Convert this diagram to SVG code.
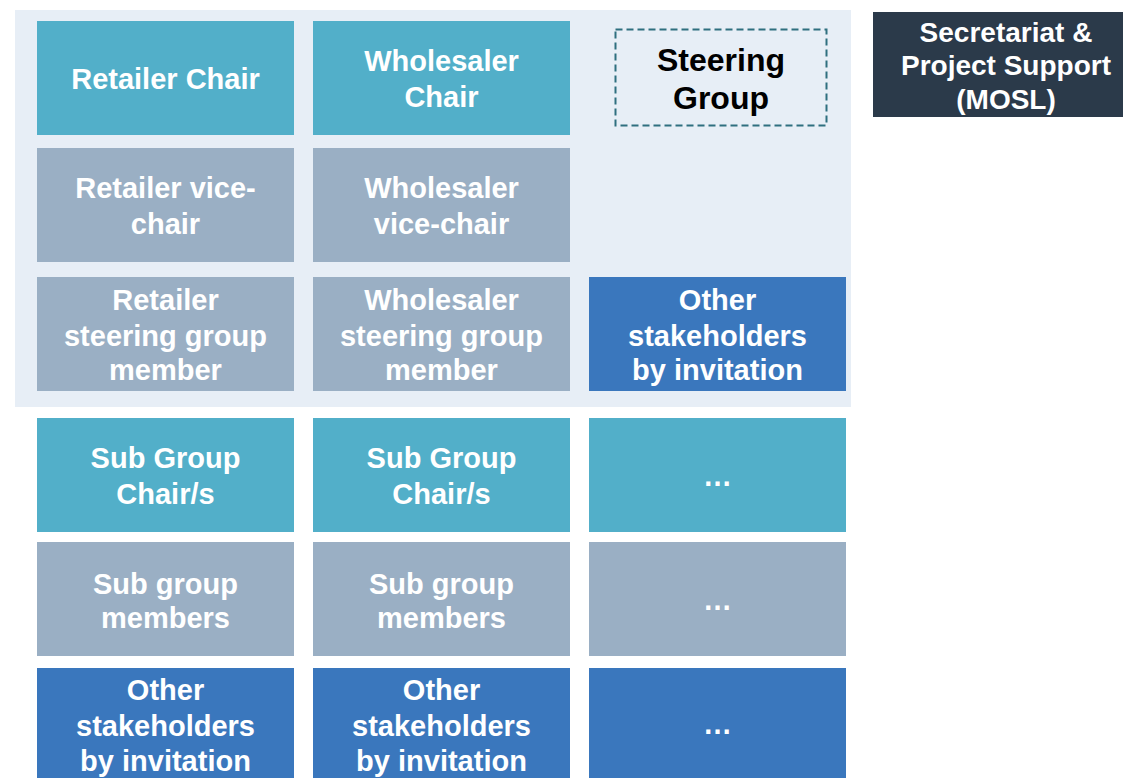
<svg xmlns="http://www.w3.org/2000/svg" width="1123" height="778" viewBox="0 0 1123 778">
  <style>
    .lbl { font-family: "Liberation Sans", Arial, sans-serif; font-weight: bold; font-size: 29px; fill: #ffffff; text-anchor: middle; }
    .chair { fill: #52AFC9; }
    .vice { fill: #9AAFC4; }
    .other { fill: #3A77BD; }
  </style>
  <rect width="1123" height="778" fill="#ffffff"/>

  <!-- steering group panel -->
  <rect id="steering-panel" x="15" y="10" width="836" height="397" fill="#E7EEF6"/>

  <g id="steering-label">
    <rect x="615.5" y="29.5" width="211" height="96" fill="none" stroke="#2F6F7F" stroke-width="2" stroke-dasharray="7 4"/>
    <text class="lbl" x="721" y="71" style="fill:#000000;font-size:32px">Steering</text>
    <text class="lbl" x="721" y="109" style="fill:#000000;font-size:32px">Group</text>
  </g>

  <g id="secretariat">
    <rect x="873" y="12" width="270" height="105" fill="#2B3A4A"/>
    <text class="lbl" x="1006" y="42" style="font-size:28px">Secretariat &amp;</text>
    <text class="lbl" x="1006" y="75" style="font-size:28px">Project Support</text>
    <text class="lbl" x="1006" y="109" style="font-size:28px">(MOSL)</text>
  </g>

  <!-- row 1 -->
  <g id="retailer-chair">
    <rect class="chair" x="37" y="21" width="257" height="114"/>
    <text class="lbl" x="165.5" y="89">Retailer Chair</text>
  </g>
  <g id="wholesaler-chair">
    <rect class="chair" x="313" y="21" width="257" height="114"/>
    <text class="lbl" x="441.5" y="71">Wholesaler</text>
    <text class="lbl" x="441.5" y="107">Chair</text>
  </g>

  <!-- row 2 -->
  <g id="retailer-vice-chair">
    <rect class="vice" x="37" y="148" width="257" height="114"/>
    <text class="lbl" x="165.5" y="198">Retailer vice-</text>
    <text class="lbl" x="165.5" y="234">chair</text>
  </g>
  <g id="wholesaler-vice-chair">
    <rect class="vice" x="313" y="148" width="257" height="114"/>
    <text class="lbl" x="441.5" y="198">Wholesaler</text>
    <text class="lbl" x="441.5" y="234">vice-chair</text>
  </g>

  <!-- row 3 -->
  <g id="retailer-sg-member">
    <rect class="vice" x="37" y="277" width="257" height="114"/>
    <text class="lbl" x="165.5" y="310">Retailer</text>
    <text class="lbl" x="165.5" y="346">steering group</text>
    <text class="lbl" x="165.5" y="380">member</text>
  </g>
  <g id="wholesaler-sg-member">
    <rect class="vice" x="313" y="277" width="257" height="114"/>
    <text class="lbl" x="441.5" y="310">Wholesaler</text>
    <text class="lbl" x="441.5" y="346">steering group</text>
    <text class="lbl" x="441.5" y="380">member</text>
  </g>
  <g id="sg-other-stakeholders">
    <rect class="other" x="589" y="277" width="257" height="114"/>
    <text class="lbl" x="717.5" y="310">Other</text>
    <text class="lbl" x="717.5" y="346">stakeholders</text>
    <text class="lbl" x="717.5" y="380">by invitation</text>
  </g>

  <!-- row 4 -->
  <g id="sub-chair-1">
    <rect class="chair" x="37" y="418" width="257" height="114"/>
    <text class="lbl" x="165.5" y="468">Sub Group</text>
    <text class="lbl" x="165.5" y="504">Chair/s</text>
  </g>
  <g id="sub-chair-2">
    <rect class="chair" x="313" y="418" width="257" height="114"/>
    <text class="lbl" x="441.5" y="468">Sub Group</text>
    <text class="lbl" x="441.5" y="504">Chair/s</text>
  </g>
  <g id="sub-chair-3">
    <rect class="chair" x="589" y="418" width="257" height="114"/>
    <text class="lbl" x="717.5" y="486">…</text>
  </g>

  <!-- row 5 -->
  <g id="sub-members-1">
    <rect class="vice" x="37" y="542" width="257" height="114"/>
    <text class="lbl" x="165.5" y="594">Sub group</text>
    <text class="lbl" x="165.5" y="628">members</text>
  </g>
  <g id="sub-members-2">
    <rect class="vice" x="313" y="542" width="257" height="114"/>
    <text class="lbl" x="441.5" y="594">Sub group</text>
    <text class="lbl" x="441.5" y="628">members</text>
  </g>
  <g id="sub-members-3">
    <rect class="vice" x="589" y="542" width="257" height="114"/>
    <text class="lbl" x="717.5" y="610">…</text>
  </g>

  <!-- row 6 -->
  <g id="sub-other-1">
    <rect class="other" x="37" y="668" width="257" height="114"/>
    <text class="lbl" x="165.5" y="700">Other</text>
    <text class="lbl" x="165.5" y="736">stakeholders</text>
    <text class="lbl" x="165.5" y="771">by invitation</text>
  </g>
  <g id="sub-other-2">
    <rect class="other" x="313" y="668" width="257" height="114"/>
    <text class="lbl" x="441.5" y="700">Other</text>
    <text class="lbl" x="441.5" y="736">stakeholders</text>
    <text class="lbl" x="441.5" y="771">by invitation</text>
  </g>
  <g id="sub-other-3">
    <rect class="other" x="589" y="668" width="257" height="114"/>
    <text class="lbl" x="717.5" y="734">…</text>
  </g>

  <!-- no connectors in this chart -->
  <g id="connectors"/>
</svg>
